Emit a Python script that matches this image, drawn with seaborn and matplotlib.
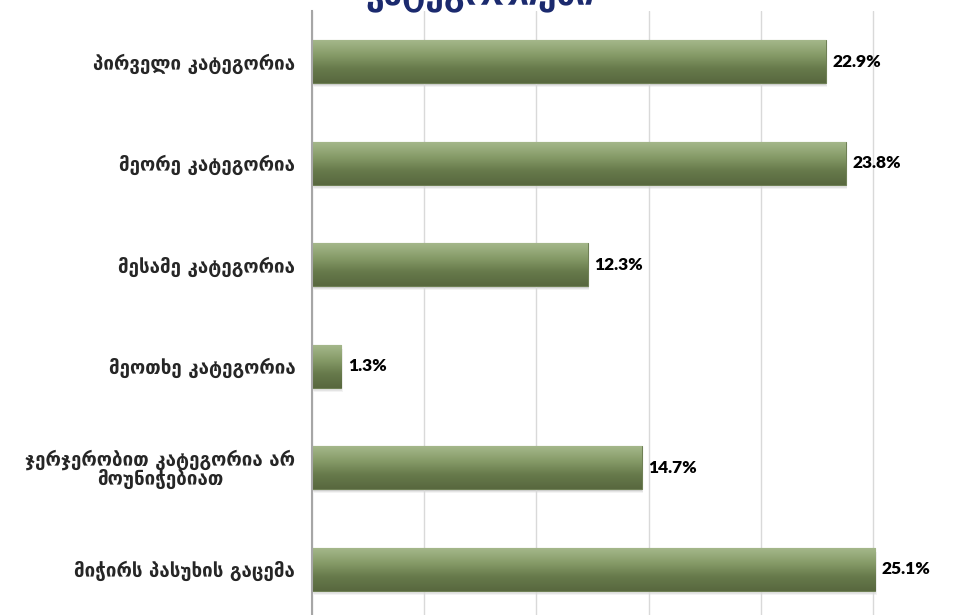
import numpy as np
import pandas as pd
import matplotlib
matplotlib.use("Agg")
import matplotlib.pyplot as plt
from matplotlib.colors import LinearSegmentedColormap
from matplotlib.ticker import FixedLocator
from matplotlib.patches import Shadow
import seaborn as sns

# data
categories = ["პირველი კატეგორია", "მეორე კატეგორია", "მესამე კატეგორია",
              "მეოთხე კატეგორია", "ჯერჯერობით კატეგორია არ\nმოუნიჭებიათ",
              "მიჭირს პასუხის გაცემა"]
values = [22.9, 23.8, 12.3, 1.3, 14.7, 25.1]
title = "კატეგორიები"

df = pd.DataFrame({"cat": categories, "val": values})

sns.set_style("white")
plt.rcParams["font.family"] = ["DejaVu Sans"]

W, H = 969, 615
fig = plt.figure(figsize=(W / 100, H / 100), dpi=100)
# axes is a crop: right edge and bottom run past the picture
ax = fig.add_axes([312 / W, -5 / H, (985 - 312) / W, 609 / H])

sns.barplot(data=df, x="val", y="cat", orient="h", color="#7d9161",
            width=0.42, edgecolor="#6f8055", linewidth=0.8, ax=ax)

ax.set_xlim(0, 30)
ax.set_ylim(5.5, -0.5)

# green gradient on the bars + soft shadow
grad_cmap = LinearSegmentedColormap.from_list(
    "g", ["#a4b78a", "#879c69", "#677a4b", "#58683f"])
grad = np.linspace(0, 1, 64).reshape(-1, 1)
for p in list(ax.patches):
    x0, y0 = p.get_x(), p.get_y()
    w, h = p.get_width(), p.get_height()
    for k, a in [(0.05, 0.06), (0.035, 0.08), (0.02, 0.10)]:
        sh = Shadow(p, k * 1.0, k * 0.6, alpha=a, zorder=p.get_zorder() - 0.5)
        sh.set_facecolor("#404040")
        sh.set_edgecolor("none")
        ax.add_patch(sh)
    im = ax.imshow(grad, cmap=grad_cmap, aspect="auto", origin="upper",
                   extent=(x0, x0 + w, y0 + h, y0), zorder=p.get_zorder() + 0.1,
                   interpolation="bicubic")
    im.set_clip_path(p)

ax.set_xlim(0, 30)
ax.set_ylim(5.5, -0.5)

# value labels
for i, v in enumerate(values):
    ax.text(v + 0.3, i, f"{v:.1f}%", va="center", ha="left",
            fontsize=12.5, fontweight="heavy", color="black",
            family=["Lato", "DejaVu Sans"])

# grid and axes styling
ax.set_xticks([0, 5, 10, 15, 20, 25, 30])
ax.xaxis.grid(True, color="#d9d9d9", linewidth=1)
ax.set_axisbelow(True)
ax.tick_params(axis="x", length=0, labelbottom=False)
ax.set_xlabel("")
ax.set_ylabel("")
for s in ["top", "right", "bottom"]:
    ax.spines[s].set_visible(False)
ax.spines["left"].set_color("#a6a6a6")
ax.spines["left"].set_linewidth(1.5)

ax.yaxis.set_minor_locator(FixedLocator([-0.5, 0.5, 1.5, 2.5, 3.5, 4.5, 5.5]))
ax.tick_params(axis="y", which="major", length=0, pad=12)
ax.tick_params(axis="y", which="minor", length=6, width=1, color="#a6a6a6")
for lab in ax.get_yticklabels():
    lab.set_fontsize(13.5)
    lab.set_fontweight("bold")
    lab.set_multialignment("center")
    lab.set_linespacing(0.9)

# title, mostly cut off by the top edge (as in the source picture)
fig.text(480 / W, 1 - 5 / H, title, ha="center", va="baseline",
         fontsize=24, fontweight="bold", color="#1b2a6e")

fig.savefig("out.png", dpi=100)
